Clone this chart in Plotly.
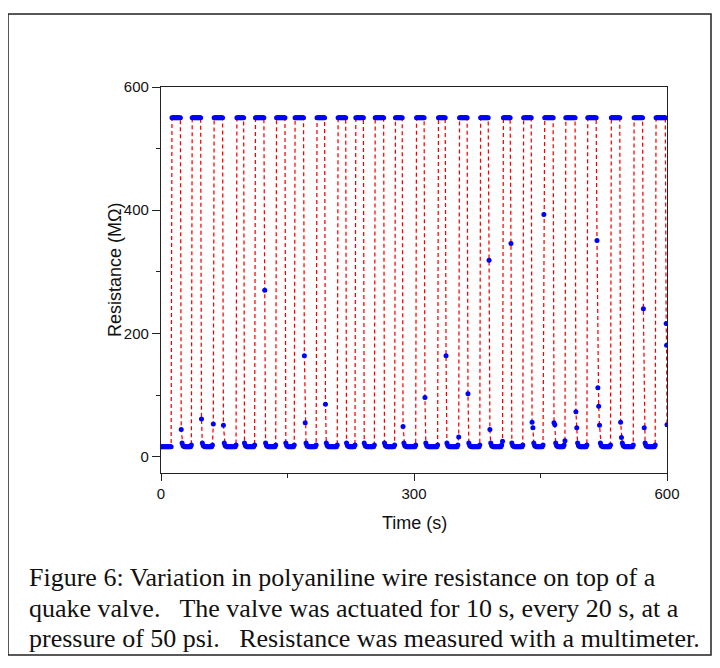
import plotly.graph_objects as go

# ---- data (time in s, resistance in MOhm) ----
# first / last sample (s) of each actuation, where the reading sits at the 550 MOhm ceiling
rise_s = [13, 37, 63, 90, 112, 137, 159, 185, 210, 231, 254, 278,
          303, 329, 354, 379, 406, 430, 455, 480, 506, 534, 561, 587]
fall_s = [23, 47, 73, 98, 122, 147, 169, 194, 219, 240, 264, 286,
          312, 337, 363, 388, 414, 439, 465, 491, 516, 544, 571, 598]
high_mohm = 550

# isolated readings caught during a transition
transit_t = [24, 48, 62, 74, 123, 170, 171, 195, 287, 313, 338, 353, 364,
             389, 390, 405, 415, 440, 441, 454, 466, 467, 479, 492, 493,
             517, 518, 519, 520, 545, 546, 572, 573, 599, 599.5, 600]
transit_r = [44, 61, 53, 51, 270, 164, 55, 85, 49, 96, 164, 32, 102,
             319, 44, 25, 346, 56, 47, 393, 55, 52, 26, 73, 47,
             351, 112, 82, 51, 56, 31, 240, 47, 216, 181, 52]

# resting readings between actuations
low_first = [16] * 13                 # 0 .. 12 s
low_head = [22, 18, 17]               # first readings after release
low_floor = 16
low_tail = 19                         # reading just before next actuation

caption = [
    "Figure 6: Variation in polyaniline wire resistance on top of a",
    "quake valve.\u00a0\u00a0 The valve was actuated for 10 s, every 20 s, at a",
    "pressure of 50 psi.\u00a0\u00a0 Resistance was measured with a multimeter.",
]

# ---- assemble the series ----
pts = {}
for t, v in zip(range(0, rise_s[0]), low_first):
    pts[t] = v
for r, f in zip(rise_s, fall_s):
    for t in range(r, f + 1):
        pts[t] = high_mohm
transit = dict(zip(transit_t, transit_r))
for k in range(len(fall_s) - 1):
    seg = [t for t in range(fall_s[k] + 1, rise_s[k + 1]) if t not in transit]
    for i, t in enumerate(seg):
        if i < len(low_head):
            pts[t] = low_head[i]
        elif i == len(seg) - 1:
            pts[t] = low_tail
        else:
            pts[t] = low_floor
pts.update(transit)
times = sorted(pts)
values = [pts[t] for t in times]

# ---- figure ----
OFF = 8  # page offset of the figure inside the window
W, H = 720, 668
X0, X1, Y0, Y1 = 161 - OFF, 667 - OFF, 87 - OFF, 473 - OFF   # plot area in figure px
L, R, T, B = X0, W - X1, Y0, H - Y1
pw, ph = X1 - X0, Y1 - Y0


def px(x):
    return (x - OFF - X0) / pw


def py(y):
    return (Y1 - (y - OFF)) / ph


fig = go.Figure()
fig.add_trace(go.Scatter(
    x=times, y=values, mode="lines+markers",
    line=dict(color="#ff0000", width=1.25, dash="4px,3px"),
    marker=dict(color="#0000ff", size=5, line=dict(width=0)),
    hoverinfo="skip",
))

axis_font = dict(family="Liberation Sans, Arial, sans-serif", size=15, color="#111")
common = dict(showgrid=False, zeroline=False, tickcolor="#222", tickwidth=1.3)
fig.update_layout(
    width=W, height=H,
    margin=dict(l=L, r=R, t=T, b=B),
    paper_bgcolor="white", plot_bgcolor="white",
    showlegend=False,
    xaxis=dict(range=[0, 600], tickvals=[0, 300, 600], ticks="outside", ticklen=7,
               showline=True, linewidth=1.3, linecolor="#222", mirror=True,
               tickfont=axis_font,
               minor=dict(tickvals=[150, 450], ticks="outside", ticklen=4,
                          tickwidth=1.1, tickcolor="#222"), **common),
    yaxis=dict(range=[-26.5, 600], tickvals=[0, 200, 400, 600], ticks="outside",
               ticklen=8, showline=True, linewidth=1.3, linecolor="#222", mirror=True,
               tickfont=axis_font,
               minor=dict(tickvals=[100, 300, 500], ticks="outside", ticklen=4,
                          tickwidth=1.1, tickcolor="#222"), **common),
    xaxis2=dict(overlaying="x", side="top", range=[0, 600],
                tickvals=[150, 300, 450], ticks="inside", ticklen=3,
                showticklabels=False, showline=False, **common),
    yaxis2=dict(overlaying="y", side="right", range=[-26.5, 600],
                tickvals=[100, 200, 300, 400, 500], ticks="outside", ticklen=3,
                showticklabels=False, showline=False, **common),
)

title_font = dict(family="Liberation Sans, Arial, sans-serif", size=18, color="#111")
annos = [
    dict(text="Time (s)", x=px(414), y=py(523), xanchor="center", yanchor="middle",
         font=title_font),
    dict(text="Resistance (M\u03a9)", x=px(115), y=py(270), xanchor="center",
         yanchor="middle", textangle=-90, font=title_font),
]
cap_font = dict(family="Liberation Serif, Times New Roman, serif", size=26, color="#111")
for line, yc in zip(caption, [577, 608, 638]):
    annos.append(dict(text=line, x=px(27), y=py(yc), xanchor="left", yanchor="middle",
                      font=cap_font))
for a in annos:
    a.update(xref="paper", yref="paper", showarrow=False)
fig.update_layout(annotations=annos)

fig.add_shape(type="rect", xref="paper", yref="paper",
              x0=px(8), x1=px(711), y0=py(655), y1=py(14),
              line=dict(color="#222", width=1.5), fillcolor="rgba(0,0,0,0)")

fig.write_html("out.html")
